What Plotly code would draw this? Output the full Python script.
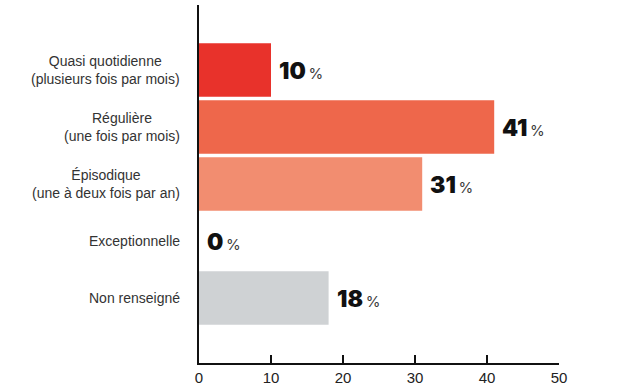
import plotly.graph_objects as go

categories = ["Quasi quotidienne<br>(plusieurs fois par mois)",
              "Régulière<br>(une fois par mois)",
              "Épisodique<br>(une à deux fois par an)",
              "Exceptionnelle",
              "Non renseigné"]
values = [10, 41, 31, 0, 18]
colors = ["#E8322B", "#EE674B", "#F28D70", "#F28D70", "#CFD2D4"]
tick_vals = [0, 10, 20, 30, 40, 50]

ypos = list(range(len(categories)))

fig = go.Figure()
fig.add_trace(go.Bar(
    x=values, y=ypos, orientation="h",
    marker=dict(color=colors, line=dict(width=0)),
    width=0.94, hoverinfo="skip"))

annotations = []
for i, (c, v) in enumerate(zip(categories, values)):
    annotations.append(dict(
        x=0, y=i, xref="paper", yref="y", text=c, showarrow=False,
        xanchor="right", yanchor="middle", align="center", xshift=-17,
        font=dict(family="Liberation Sans", size=14, color="#333333")))
    annotations.append(dict(
        x=v, y=i, xref="x", yref="y",
        text="%d<span style='font-size:15px;font-weight:400;fill:#3c3c3c'>\u2009%%</span>" % v,
        showarrow=False, xanchor="left", yanchor="middle", xshift=6, yshift=-1,
        font=dict(family="Inter", size=23, color="#111111", weight=900)))

fig.update_layout(
    width=642, height=391,
    margin=dict(l=199, r=83, t=5, b=25),
    paper_bgcolor="white", plot_bgcolor="white",
    showlegend=False,
    annotations=annotations,
    xaxis=dict(range=[0, 50], tickvals=tick_vals, ticks="inside", ticklen=8,
               tickwidth=1.5, tickcolor="#111111", showline=True, linewidth=2,
               linecolor="#111111", showgrid=False, zeroline=False,
               tickfont=dict(family="Liberation Sans", size=15, color="#222222"),
               fixedrange=True),
    yaxis=dict(range=[5.14, -1.14], showticklabels=False, ticks="",
               showline=True, linewidth=2, linecolor="#111111",
               showgrid=False, zeroline=False, fixedrange=True),
)

fig.write_html("out.html", config={"displayModeBar": False},
               post_script="document.body.style.margin='0';document.body.style.padding='0';")
